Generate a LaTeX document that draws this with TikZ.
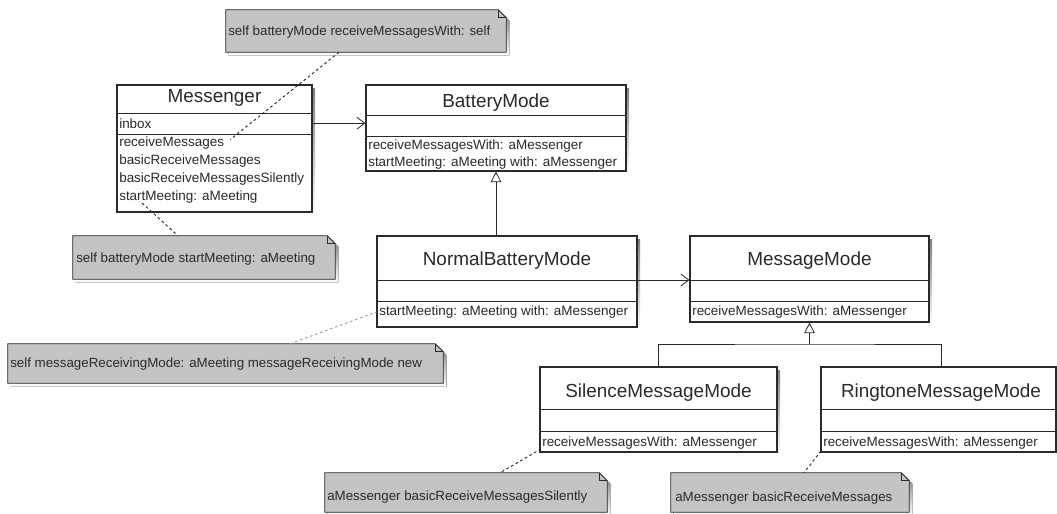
\documentclass[tikz,border=0pt]{standalone}
\usepackage{fontspec}
\setmainfont{Liberation Sans}
\usetikzlibrary{fit,arrows.meta}

\definecolor{notefill}{HTML}{C4C4C4}
\definecolor{shade}{HTML}{A8A8A8}
\definecolor{ink}{HTML}{2A2A2A}

\tikzset{
  box/.style={draw=ink, fill=white, line width=0.8pt, inner sep=0pt},
  ctitle/.style={font=\fontsize{14.2}{16}\selectfont, anchor=base, text=ink, inner sep=0pt},
  item/.style={font=\fontsize{10.1}{12}\selectfont, anchor=base west, text=ink, inner sep=0pt},
  notetext/.style={font=\fontsize{10}{12}\selectfont, anchor=base west, text=ink, inner sep=0pt},
  sepline/.style={draw=ink, line width=0.6pt},
  assoc/.style={draw=ink, line width=0.6pt, -{Straight Barb[length=6pt,width=9pt]}},
  gen/.style={draw=ink, line width=0.6pt, -{Triangle[open,length=8pt,width=8pt,fill=white]}},
  anchorline/.style={draw=ink, line width=0.7pt, dash pattern=on 2pt off 2pt},
  notebody/.style={draw=ink, fill=notefill, line width=0.7pt},
}

% class rectangle with a drop shadow: #1 name, #2 top-left, #3 bottom-right
\newcommand\umlclass[3]{%
  \fill[shade] ([shift={(3,3)}]#2) rectangle ([shift={(3,3)}]#3);
  \node[box, fit={(#2) (#3)}] (#1) {};
}
% compartment line at height #2 across class #1
\newcommand\compline[2]{%
  \draw[sepline] (#1.west |- 0,#2) -- (#1.east |- 0,#2);
}
% note with folded corner: #1 name, #2 top-left, #3 bottom-right
\newcommand\umlnote[3]{%
  \node[fit={(#2) (#3)}, inner sep=0pt] (#1) {};
  \fill[shade] ([shift={(3,3)}]#1.north west) -- ([shift={(-5,3)}]#1.north east)
     -- ([shift={(3,11)}]#1.north east) -- ([shift={(3,3)}]#1.south east)
     -- ([shift={(3,3)}]#1.south west) -- cycle;
  \draw[notebody] (#1.north west) -- ([shift={(-8,0)}]#1.north east)
     -- ([shift={(0,8)}]#1.north east) -- (#1.south east) -- (#1.south west) -- cycle;
  \draw[ink, line width=0.5pt] ([shift={(-8,0)}]#1.north east) -- ([shift={(-8,8)}]#1.north east)
     -- ([shift={(0,8)}]#1.north east);
}

\begin{document}
\begin{tikzpicture}[x=0.75pt, y=-0.75pt]
  \useasboundingbox[fill=white] (0,0) rectangle (1057,514);

  % ---- classes ----
  \umlclass{messenger}{117,85}{312,212}
  \compline{messenger}{113}
  \compline{messenger}{134}
  \node[ctitle] (mT) at (214.5,102) {Messenger};
  \node[item] (mInbox) at (119,128) {inbox};
  \node[item] (mRecv) at (119,146) {receiveMessages};
  \node[item] (mBasic) at (119,164) {basicReceiveMessages};
  \node[item] (mSilent) at (119,182) {basicReceiveMessagesSilently};
  \node[item] (mStart) at (119,200) {startMeeting: aMeeting};

  \umlclass{battery}{366,85}{626,171}
  \compline{battery}{115}
  \compline{battery}{136}
  \node[ctitle] (bT) at (496,107) {BatteryMode};
  \node[item] (bRecv) at (368,149) {receiveMessagesWith: aMessenger};
  \node[item] (bStart) at (368,166) {startMeeting: aMeeting with: aMessenger};

  \umlclass{normal}{377,236}{637,327}
  \compline{normal}{280}
  \compline{normal}{301}
  \node[ctitle] (nT) at (507,265) {NormalBatteryMode};
  \node[item] (nStart) at (379,315.5) {startMeeting: aMeeting with: aMessenger};

  \umlclass{msgmode}{690,236}{929,322}
  \compline{msgmode}{280}
  \compline{msgmode}{301}
  \node[ctitle] (mmT) at (809.5,265) {MessageMode};
  \node[item] (mmRecv) at (692,315) {receiveMessagesWith: aMessenger};

  \umlclass{silence}{540,367}{777,452}
  \compline{silence}{409}
  \compline{silence}{431}
  \node[ctitle] (sT) at (658.5,397.5) {SilenceMessageMode};
  \node[item] (sRecv) at (542,446) {receiveMessagesWith: aMessenger};

  \umlclass{ringtone}{821,367}{1056,452}
  \compline{ringtone}{409}
  \compline{ringtone}{431}
  \node[ctitle] (rT) at (941,397.5) {RingtoneMessageMode};
  \node[item] (rRecv) at (823,446) {receiveMessagesWith: aMessenger};

  % ---- relations ----
  \draw[assoc] (messenger.east |- mInbox) -- (battery.west |- mInbox);
  \draw[gen] (normal.north -| battery.south) -- (battery.south);
  \coordinate (nsep) at (377,280);
  \draw[assoc] (normal.east |- nsep) -- (msgmode.west |- nsep);
  \coordinate (junc) at (809.5,344);
  \coordinate (rjoin) at (941,367);
  \draw[sepline] (silence.north) |- (junc) -| (rjoin);
  \draw[gen] (junc) -- (msgmode.south);

  % ---- notes ----
  \umlnote{topnote}{226,10}{506,52}
  \node[notetext] at (228,36) {self batteryMode receiveMessagesWith: self};

  \umlnote{meetnote}{73,236}{335,279}
  \node[notetext] at (76,262.5) {self batteryMode startMeeting: aMeeting};

  \umlnote{modenote}{8,344}{443,383}
  \node[notetext] at (10,367) {self messageReceivingMode: aMeeting messageReceivingMode new};

  \umlnote{silnote}{325,473}{607,512}
  \node[notetext] at (327,500.5) {aMessenger basicReceiveMessagesSilently};

  \umlnote{ringnote}{671,473}{909,512}
  \node[notetext] at (675,501) {aMessenger basicReceiveMessages};

  % ---- note anchors ----
  \draw[anchorline] ([shift={(-27,0)}]topnote.south) -- ([shift={(6,-3)}]mRecv.east);
  \draw[anchorline] ([shift={(23,3)}]mStart.base west) -- ([shift={(-26,0)}]meetnote.north);
  \draw[anchorline, draw=ink!45] ([shift={(64.5,0)}]modenote.north) -- (normal.west |- nStart);
  \draw[anchorline] ([shift={(-1,3)}]sRecv.base west) -- ([shift={(34,0)}]silnote.north);
  \draw[anchorline] ([shift={(-2,5)}]rRecv.base west) -- ([shift={(14,0)}]ringnote.north);
\end{tikzpicture}
\end{document}
